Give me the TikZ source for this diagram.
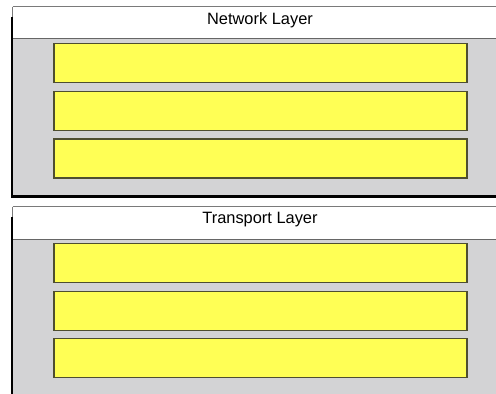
\documentclass[tikz,border=0pt]{standalone}
\usepackage{fontspec}
\setmainfont{Liberation Sans}
\definecolor{panelgray}{HTML}{D3D3D5}
\definecolor{slotyellow}{HTML}{FFFF55}
\definecolor{slotline}{HTML}{4E4E30}
\definecolor{rulegray}{HTML}{7A7A7A}
\tikzset{
  panelbody/.style={fill=panelgray, draw=none},
  headbox/.style={fill=white, draw=none},
  headrule/.style={draw=rulegray, line width=1pt},
  shadowline/.style={draw=black, line width=2.6pt},
  slotbox/.style={fill=slotyellow, draw=slotline, line width=1.2pt},
  titletext/.style={font=\fontsize{16.4}{19}\selectfont, text=black, inner sep=0pt}
}
\begin{document}
\begin{tikzpicture}[x=1pt,y=-1pt]
\useasboundingbox (0,0) rectangle (496,394);
% ---------- top panel ----------
\fill[panelbody] (12.5,38.5) rectangle (500,196);
\fill[headbox] (12.5,6.7) rectangle (500,38.5);
\draw[headrule] (12.5,6.7) -- (500,6.7);
\draw[headrule] (12.5,6.7) -- (12.5,17);
\draw[headrule, draw=black!60] (12.5,38.8) -- (500,38.8);
\draw[shadowline] (12,16.7) -- (12,196.5) -- (500,196.5);
\node[titletext] (nettitle) at (260,20) {Network Layer};
\node[slotbox, minimum width=413pt, minimum height=39pt, inner sep=0pt] (n1) at (260.5,63.3) {};
\node[slotbox, minimum width=413pt, minimum height=39pt, inner sep=0pt] (n2) at (260.5,111) {};
\node[slotbox, minimum width=413pt, minimum height=39pt, inner sep=0pt] (n3) at (260.5,158.5) {};
% ---------- bottom panel ----------
\fill[panelbody] (12.5,238.7) rectangle (500,400);
\fill[headbox] (12.5,206.7) rectangle (500,238.7);
\draw[headrule] (12.5,206.7) -- (500,206.7);
\draw[headrule] (12.5,206.7) -- (12.5,217);
\draw[headrule, draw=black!60] (12.5,239) -- (500,239);
\draw[shadowline] (12,216.7) -- (12,400);
\node[titletext] (trtitle) at (260,220) {Transport Layer};
\node[slotbox, minimum width=413pt, minimum height=39pt, inner sep=0pt] (t1) at (260.5,263.3) {};
\node[slotbox, minimum width=413pt, minimum height=39pt, inner sep=0pt] (t2) at (260.5,310.8) {};
\node[slotbox, minimum width=413pt, minimum height=39pt, inner sep=0pt] (t3) at (260.5,358.3) {};
\end{tikzpicture}
\end{document}
